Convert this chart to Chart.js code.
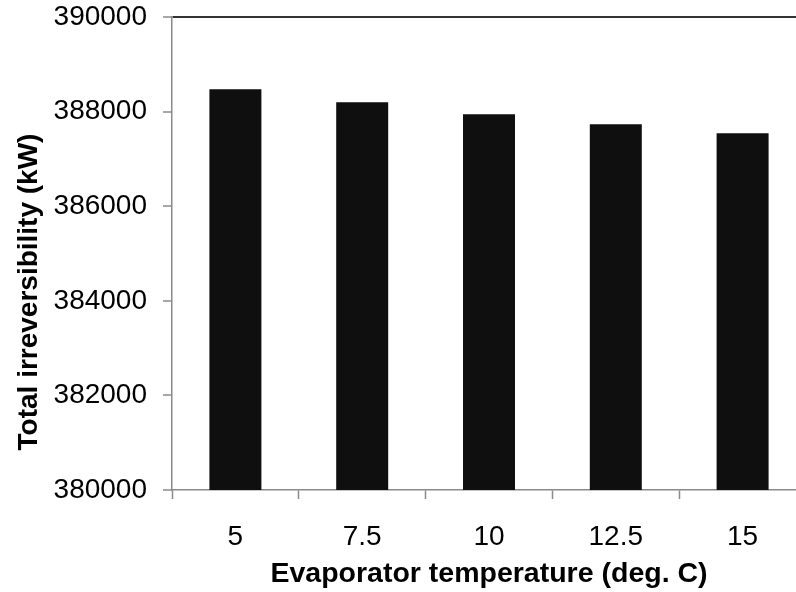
<!DOCTYPE html>
<html>
<head>
<meta charset="utf-8">
<script src="https://cdn.jsdelivr.net/npm/chart.js@4/dist/chart.umd.min.js"></script>
<style>
  html, body { margin: 0; padding: 0; background: #fff; overflow: hidden; }
  #wrap { width: 806px; height: 592px; }
</style>
</head>
<body>
<div id="wrap"><canvas id="c" width="806" height="592"></canvas></div>
<script>
const categories = ["5", "7.5", "10", "12.5", "15"];
const irreversibility = [388470, 388200, 387945, 387730, 387540];
const yMin = 380000;
const yMax = 390000;
const yStep = 2000;
const xTitle = "Evaporator temperature (deg. C)";
const yTitle = "Total irreversibility (kW)";

const FONT = "'Liberation Sans', Arial, Helvetica, sans-serif";

// Y-axis title, centred on the whole chart height as in the reference
const yTitlePlugin = {
  id: 'yTitlePlugin',
  afterDraw(chart) {
    const ctx = chart.ctx;
    ctx.save();
    ctx.translate(29, chart.height / 2 - 4);
    ctx.rotate(-Math.PI / 2);
    ctx.font = "bold 28px " + FONT;
    ctx.fillStyle = '#000';
    ctx.textAlign = 'center';
    ctx.textBaseline = 'middle';
    ctx.fillText(yTitle, 0, 0);
    ctx.restore();
  }
};

new Chart(document.getElementById('c'), {
  type: 'bar',
  data: {
    labels: categories,
    datasets: [{
      data: irreversibility,
      backgroundColor: '#0f0f0f',
      borderWidth: 0,
      categoryPercentage: 1.0,
      barPercentage: 0.41
    }]
  },
  plugins: [yTitlePlugin],
  options: {
    responsive: false,
    animation: false,
    events: [],
    layout: { padding: 0 },
    plugins: { legend: { display: false }, tooltip: { enabled: false } },
    scales: {
      x: {
        offset: true,
        grid: {
          offset: true,
          drawOnChartArea: false,
          drawTicks: true,
          tickLength: 9,
          tickColor: '#8a8a8a',
          tickWidth: 1.5
        },
        border: { display: true, color: '#8a8a8a', width: 1.5 },
        ticks: {
          color: '#000',
          font: { family: FONT, size: 28 },
          padding: 21,
          maxRotation: 0
        },
        title: {
          display: true,
          text: xTitle,
          color: '#000',
          font: { family: FONT, size: 28.5, weight: 'bold' },
          padding: { top: 0, bottom: 1 }
        },
        afterFit: (s) => { s.height = 102; }
      },
      y: {
        min: yMin,
        max: yMax,
        grid: {
          drawOnChartArea: true,
          color: (ctx) => (ctx.tick && ctx.tick.value === yMax) ? '#333' : 'rgba(0,0,0,0)',
          lineWidth: 2,
          drawTicks: true,
          tickLength: 9,
          tickColor: '#8a8a8a',
          tickWidth: 1.5
        },
        border: { display: true, color: '#8a8a8a', width: 1.5 },
        ticks: {
          stepSize: yStep,
          color: '#000',
          font: { family: FONT, size: 28 },
          padding: 16,
          callback: (v) => String(v)
        },
        title: { display: false },
        afterFit: (s) => { s.width = 172; s.paddingTop = 17; s.paddingBottom = 0; }
      }
    }
  }
});
</script>
</body>
</html>
